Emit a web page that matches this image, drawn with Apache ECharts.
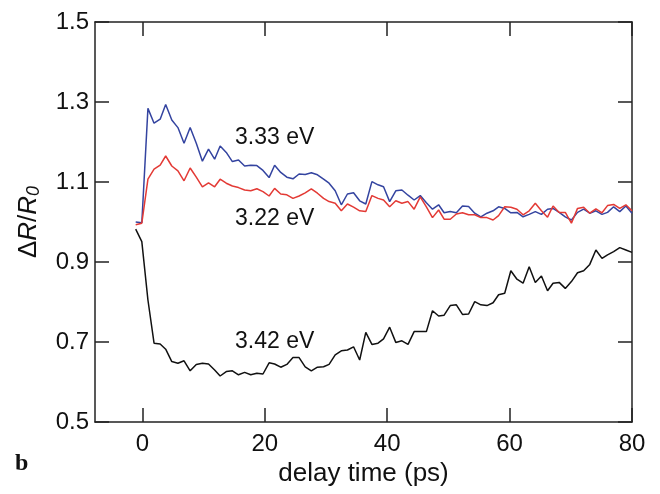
<!DOCTYPE html>
<html>
<head>
<meta charset="utf-8">
<script src="https://cdn.jsdelivr.net/npm/echarts@6/dist/echarts.min.js"></script>
<style>html,body{margin:0;padding:0;background:#fff;}#c{width:660px;height:494px;}</style>
</head>
<body>
<div id="c"></div>
<script>
const times = [-1.1,-0.1,0.9,1.9,2.9,3.8,4.8,5.8,6.8,7.8,8.8,9.8,10.8,11.8,12.7,13.7,14.7,15.7,16.7,17.7,18.7,19.7,20.7,21.6,22.6,23.6,24.6,25.6,26.6,27.6,28.6,29.6,30.5,31.5,32.5,33.5,34.5,35.5,36.5,37.5,38.5,39.4,40.4,41.4,42.4,43.4,44.4,45.4,46.4,47.4,48.4,49.3,50.3,51.3,52.3,53.3,54.3,55.3,56.3,57.3,58.2,59.2,60.2,61.2,62.2,63.2,64.2,65.2,66.2,67.1,68.1,69.1,70.1,71.1,72.1,73.1,74.1,75.1,76.0,77.0,78.0,79.0,80.0];

const blue333 = [1.000,0.998,1.284,1.247,1.257,1.294,1.255,1.236,1.197,1.236,1.197,1.152,1.182,1.157,1.190,1.174,1.151,1.155,1.140,1.142,1.141,1.129,1.111,1.142,1.124,1.112,1.108,1.120,1.119,1.123,1.118,1.107,1.097,1.078,1.043,1.070,1.073,1.053,1.045,1.101,1.093,1.088,1.051,1.078,1.080,1.067,1.055,1.066,1.048,1.032,1.043,1.023,1.026,1.023,1.040,1.039,1.022,1.013,1.022,1.028,1.038,1.034,1.023,1.024,1.013,1.019,1.026,1.019,1.032,1.034,1.024,1.013,1.005,1.024,1.032,1.022,1.028,1.019,1.024,1.038,1.026,1.040,1.022];

const red322 = [0.993,0.997,1.107,1.132,1.142,1.165,1.140,1.128,1.103,1.135,1.112,1.088,1.098,1.088,1.107,1.097,1.090,1.086,1.080,1.078,1.083,1.076,1.065,1.084,1.070,1.068,1.059,1.065,1.073,1.083,1.072,1.059,1.051,1.047,1.028,1.045,1.037,1.028,1.026,1.066,1.059,1.055,1.038,1.053,1.047,1.051,1.032,1.063,1.038,1.011,1.030,1.007,1.007,1.020,1.023,1.018,1.018,1.011,1.011,1.005,1.016,1.038,1.037,1.032,1.018,1.028,1.047,1.028,1.012,1.040,1.024,1.024,0.997,1.034,1.037,1.022,1.033,1.023,1.041,1.044,1.034,1.043,1.028];

const black342 = [0.982,0.951,0.805,0.697,0.695,0.682,0.651,0.647,0.653,0.628,0.644,0.647,0.645,0.630,0.615,0.626,0.628,0.618,0.624,0.618,0.622,0.620,0.648,0.645,0.637,0.644,0.661,0.661,0.638,0.628,0.637,0.638,0.644,0.668,0.678,0.680,0.688,0.655,0.724,0.694,0.697,0.708,0.737,0.699,0.703,0.694,0.726,0.726,0.726,0.778,0.765,0.767,0.791,0.793,0.769,0.770,0.801,0.793,0.791,0.798,0.818,0.822,0.878,0.857,0.847,0.888,0.849,0.865,0.828,0.847,0.849,0.834,0.851,0.873,0.878,0.894,0.930,0.909,0.918,0.926,0.936,0.930,0.924];

const xTicks = [0, 20, 40, 60, 80];
const yTicks = [0.5, 0.7, 0.9, 1.1, 1.3, 1.5];
const seriesNames = ['3.33 eV', '3.22 eV', '3.42 eV'];

const FONT = '"Liberation Sans", Arial, Helvetica, sans-serif';
const AX = '#222';

function pairs(vals) { return times.map((t, i) => [t, vals[i]]); }

const chart = echarts.init(document.getElementById('c'), null, {renderer: 'canvas'});

const xBase = {
  type: 'value', min: -7.75, max: 80,
  splitLine: {show: false},
  axisLine: {show: true, onZero: false, lineStyle: {color: AX, width: 1.5}},
  axisTick: {show: true, inside: true, length: 14, customValues: xTicks, lineStyle: {color: AX, width: 1.5}}
};
const yBase = {
  type: 'value', min: 0.5, max: 1.5,
  splitLine: {show: false},
  axisLine: {show: true, onZero: false, lineStyle: {color: AX, width: 1.5}},
  axisTick: {show: true, inside: true, length: 14, customValues: yTicks, lineStyle: {color: AX, width: 1.5}}
};

chart.setOption({
  animation: false,
  backgroundColor: '#fff',
  grid: {left: 95, right: 28, top: 22, bottom: 72, containLabel: false},
  xAxis: [
    Object.assign({}, xBase, {
      position: 'bottom',
      name: 'delay time (ps)', nameLocation: 'middle', nameGap: 39,
      nameTextStyle: {fontFamily: FONT, fontSize: 26, color: '#111'},
      axisLabel: {show: true, customValues: xTicks, margin: 10, fontFamily: FONT, fontSize: 24, color: '#111'}
    }),
    Object.assign({}, xBase, {position: 'top', axisLabel: {show: false}})
  ],
  yAxis: [
    Object.assign({}, yBase, {
      position: 'left',
      name: '{n|Δ}{i|R}{n|/}{i|R}{s|0}', nameLocation: 'middle', nameGap: 52,
      nameTextStyle: {
        fontFamily: FONT, fontSize: 26, color: '#111',
        rich: {
          n: {fontFamily: FONT, fontSize: 26, color: '#111'},
          i: {fontFamily: FONT, fontSize: 26, fontStyle: 'italic', color: '#111'},
          s: {fontFamily: FONT, fontSize: 18, fontStyle: 'italic', color: '#111', verticalAlign: 'bottom', padding: [10, 0, 0, 0]}
        }
      },
      axisLabel: {show: true, customValues: yTicks, margin: 6, fontFamily: FONT, fontSize: 24, color: '#111',
        formatter: v => v.toFixed(1)}
    }),
    Object.assign({}, yBase, {position: 'right', axisLabel: {show: false}})
  ],
  series: [
    {name: seriesNames[0], type: 'line', data: pairs(blue333), symbol: 'none', lineStyle: {color: '#3444a0', width: 1.5}, z: 3},
    {name: seriesNames[1], type: 'line', data: pairs(red322), symbol: 'none', lineStyle: {color: '#e33a35', width: 1.5}, z: 4},
    {name: seriesNames[2], type: 'line', data: pairs(black342), symbol: 'none', lineStyle: {color: '#111', width: 1.5}, z: 2}
  ],
  graphic: [
    {type: 'text', left: 235, top: 126, style: {text: seriesNames[0], font: '23px ' + FONT, fill: '#111'}},
    {type: 'text', left: 235, top: 207, style: {text: seriesNames[1], font: '23px ' + FONT, fill: '#111'}},
    {type: 'text', left: 235, top: 330, style: {text: seriesNames[2], font: '23px ' + FONT, fill: '#111'}},
    {type: 'text', left: 15, top: 452, style: {text: 'b', font: 'bold 24px "Liberation Serif", "Times New Roman", serif', fill: '#111'}}
  ]
});
</script>
</body>
</html>
